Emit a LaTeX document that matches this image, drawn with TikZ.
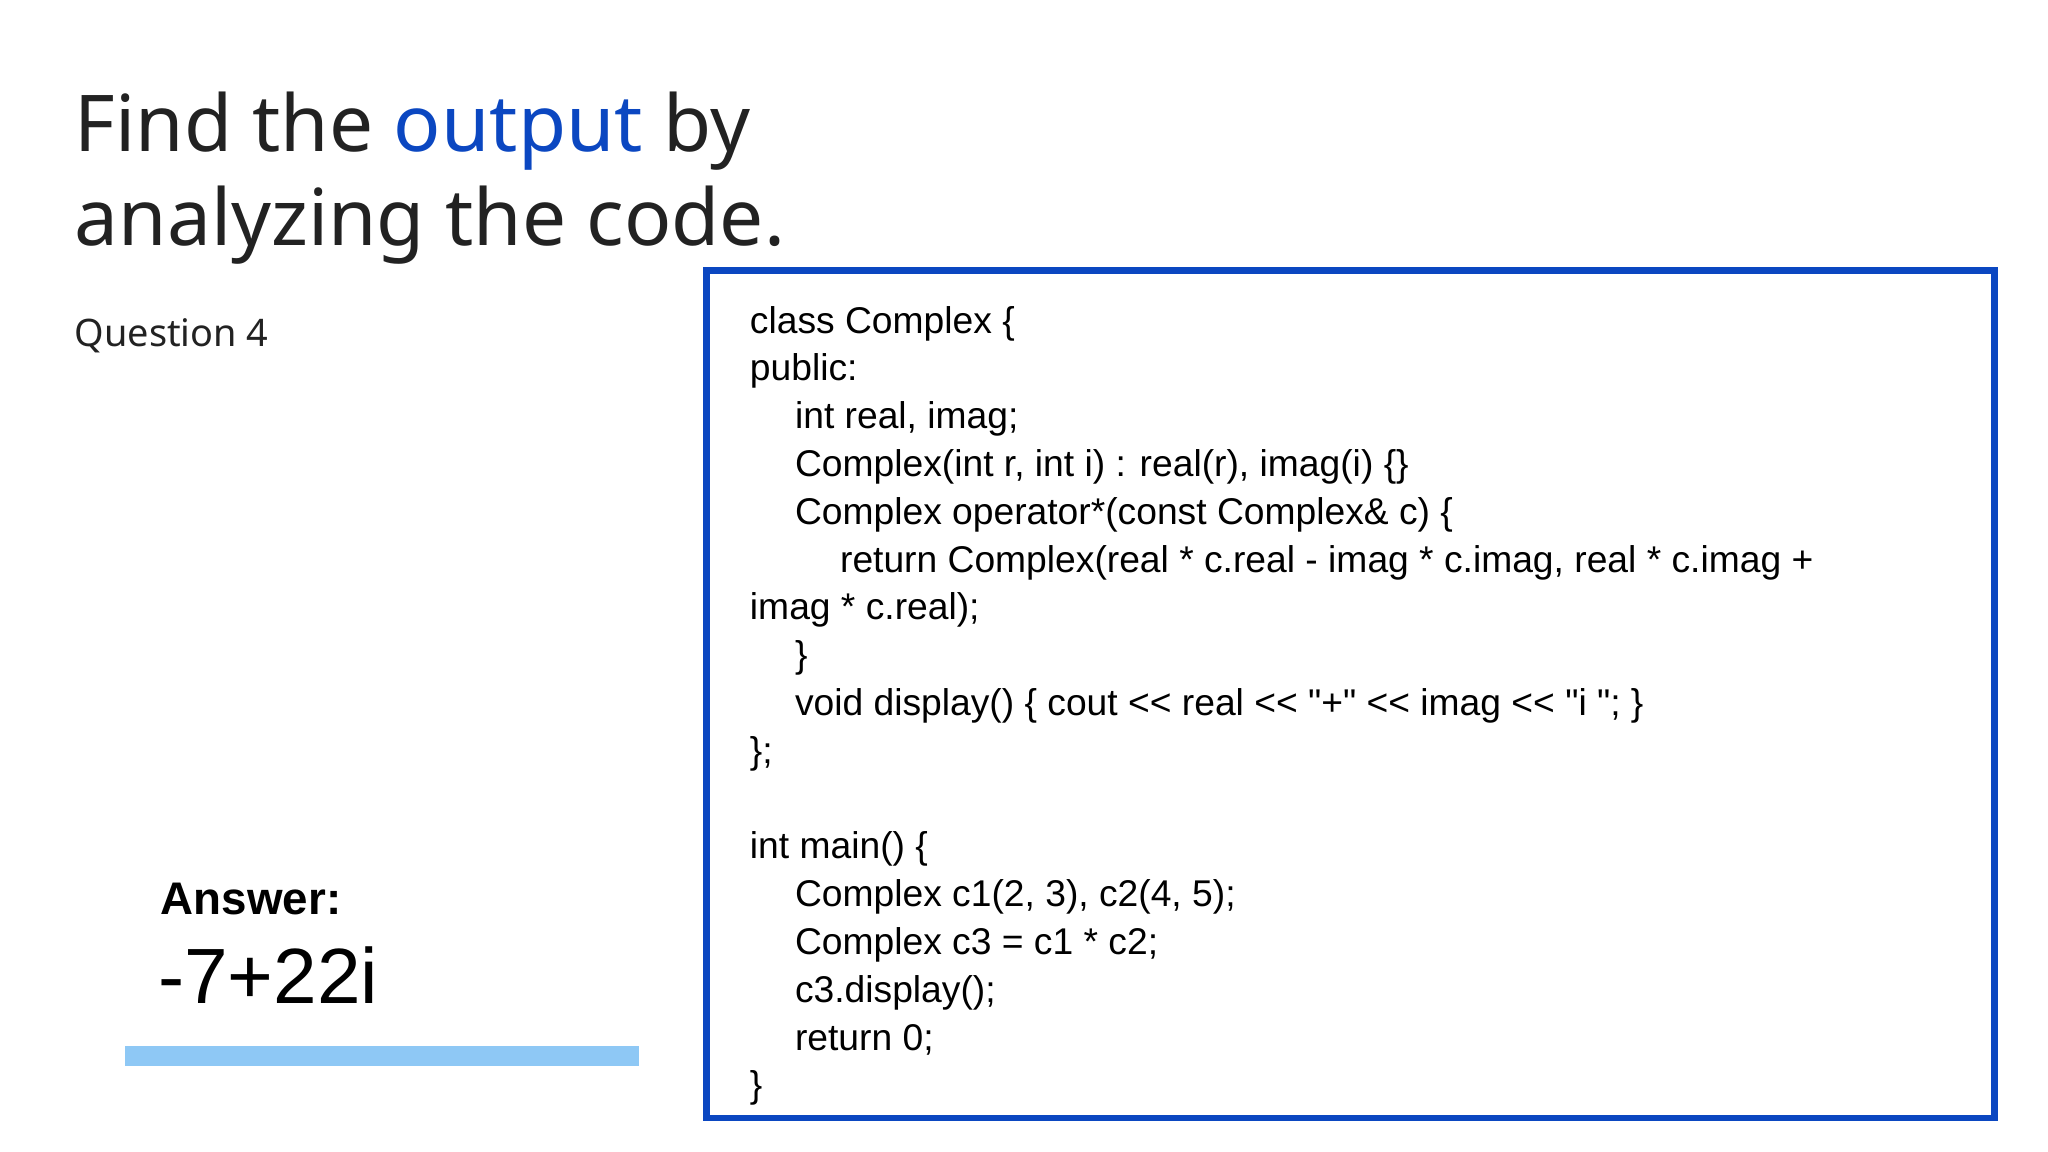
\documentclass[tikz,border=0pt]{standalone}
\usepackage{fontspec}
\setmainfont{Noto Sans}
\newfontfamily\codefont{Liberation Sans}
\definecolor{titleblue}{HTML}{0B47C1}
\definecolor{barblue}{HTML}{8EC8F5}
\definecolor{ink}{HTML}{222222}
\tikzset{
  txt/.style={anchor=base west,inner sep=0pt,text=ink},
  codeline/.style={anchor=base west,inner sep=0pt,font=\codefont\fontsize{28.5}{34}\selectfont,text=black}
}
\begin{document}
\begin{tikzpicture}[x=1pt,y=-1pt]
\useasboundingbox (0,0) rectangle (1568,882);
\node[txt,font=\fontsize{60}{72}\selectfont] (t1) at (57,116) {Find the \textcolor{titleblue}{output} by};
\node[txt,font=\fontsize{60}{72}\selectfont] (t2) at (57,188) {analyzing the code.};
\node[txt,font=\fontsize{29}{34}\selectfont] (q) at (57,265) {Question 4};
\draw[titleblue,line width=5] (541,207) rectangle (1527,856);
\foreach \i/\ind/\s in {0/0/{class Complex \{},1/0/{public:},2/1/{int real, imag;},3/1/{Complex(int r, int i) : real(r), imag(i) \{\}},4/1/{Complex operator*(const Complex\& c) \{},5/2/{return Complex(real * c.real - imag * c.imag, real * c.imag +},6/0/{imag * c.real);},7/1/{\}},8/1/{void display() \{ cout << real << "+" << imag << "i "; \}},9/0/{\};},11/0/{int main() \{},12/1/{Complex c1(2, 3), c2(4, 5);},13/1/{Complex c3 = c1 * c2;},14/1/{c3.display();},15/1/{return 0;},16/0/{\}}}
  \node[codeline] (c\i) at ({574+34.5*\ind},{255+36.6*\i}) {\s};
\node[anchor=base west,inner sep=0pt,font=\codefont\bfseries\fontsize{35}{40}\selectfont] (a) at (123,700) {Answer:};
\node[anchor=base west,inner sep=0pt,font=\codefont\fontsize{60}{70}\selectfont] (v) at (121,768) {-7+22i};
\fill[barblue] (96,801) rectangle (489,816);
\end{tikzpicture}
\end{document}
